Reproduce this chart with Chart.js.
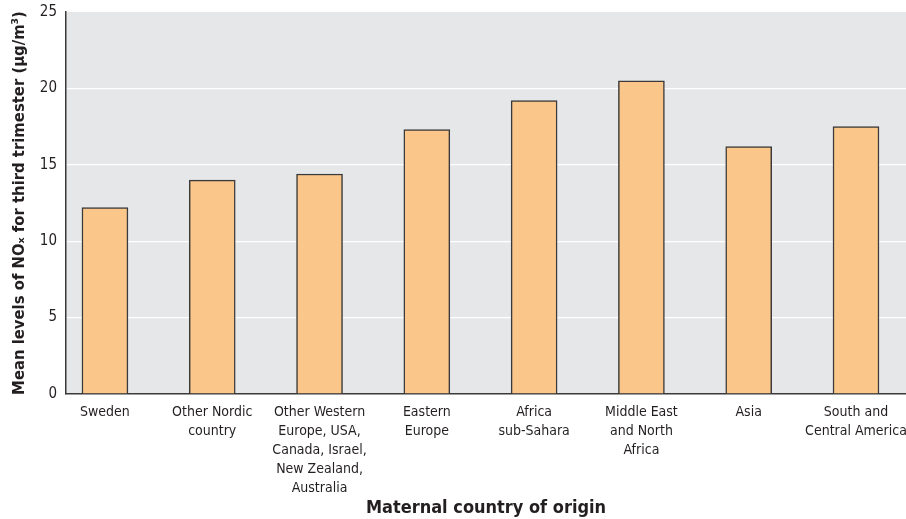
<!DOCTYPE html>
<html>
<head>
<meta charset="utf-8">
<script src="https://cdn.jsdelivr.net/npm/chart.js@4/dist/chart.umd.min.js"></script>
<style>
  html, body { margin: 0; padding: 0; background: #fff; }
  #wrap { width: 906px; height: 519px; position: relative; }
</style>
</head>
<body>
<div id="wrap"><canvas id="chart"></canvas></div>
<script>
const FONT = "'Liberation Sans Narrow', 'DejaVu Sans Condensed', 'Roboto', sans-serif";
const INK = "#231f20";

// categories (multi-line tick labels) and mean NOx values
const countries = [
  ["Sweden"],
  ["Other Nordic", "country"],
  ["Other Western", "Europe, USA,", "Canada, Israel,", "New Zealand,", "Australia"],
  ["Eastern", "Europe"],
  ["Africa", "sub-Sahara"],
  ["Middle East", "and North", "Africa"],
  ["Asia"],
  ["South and", "Central America"]
];
const noxMeans = [12.2, 14.0, 14.4, 17.3, 19.2, 20.5, 16.2, 17.5];
const yTicks = [0, 5, 10, 15, 20, 25];

// gray panel behind the plot
const panelBg = {
  id: "panelBg",
  beforeDraw(c) {
    const { ctx, chartArea: a } = c;
    ctx.save();
    ctx.fillStyle = "#e6e7e9";
    ctx.fillRect(a.left, a.top, a.right - a.left, a.bottom - a.top);
    ctx.restore();
  }
};

new Chart(document.getElementById("chart"), {
  type: "bar",
  data: {
    datasets: [{
      data: noxMeans.map((v, i) => ({ x: i, y: v })),
      backgroundColor: "#fbc689",
      borderColor: "#3a3a3a",
      borderWidth: 1.5,
      borderSkipped: "bottom",
      barThickness: 46
    }]
  },
  options: {
    responsive: true,
    maintainAspectRatio: false,
    animation: false,
    layout: { padding: { top: 12, right: 0, left: 0, bottom: 0 } },
    plugins: { legend: { display: false }, tooltip: { enabled: false } },
    scales: {
      x: {
        type: "linear",
        offset: false,
        min: -0.363,
        max: 7.466,
        afterBuildTicks: s => { s.ticks = countries.map((_, i) => ({ value: i })); },
        afterFit: s => { s.height = 125; s.paddingLeft = 0; s.paddingRight = 0; },
        grid: { display: false, drawTicks: false, offset: false },
        border: { color: "#3a3a3a", width: 1.5 },
        ticks: {
          autoSkip: false,
          maxRotation: 0,
          padding: 9,
          color: INK,
          font: { family: FONT, size: 14, lineHeight: 1.35 },
          callback: v => countries[v] || ""
        },
        title: {
          display: true,
          text: "Maternal country of origin",
          color: INK,
          font: { family: FONT, size: 18, weight: "bold" },
          padding: { top: 0, bottom: 0 }
        }
      },
      y: {
        min: 0,
        max: 25,
        afterBuildTicks: s => { s.ticks = yTicks.map(v => ({ value: v })); },
        afterFit: s => { s.width = 66; s.paddingTop = 0; s.paddingBottom = 0; },
        grid: {
          drawTicks: false,
          lineWidth: 1.3,
          color: c => (c.tick && (c.tick.value === 0 || c.tick.value === 25)) ? "rgba(0,0,0,0)" : "#ffffff"
        },
        border: { color: "#3a3a3a", width: 1.5 },
        ticks: {
          padding: 9,
          color: INK,
          font: { family: FONT, size: 15 }
        },
        title: {
          display: true,
          text: "Mean levels of NOₓ for third trimester (μg/m³)",
          color: INK,
          font: { family: FONT, size: 16.5, weight: "bold" },
          padding: { top: 10, bottom: 0 }
        }
      }
    }
  },
  plugins: [panelBg]
});
</script>
</body>
</html>
